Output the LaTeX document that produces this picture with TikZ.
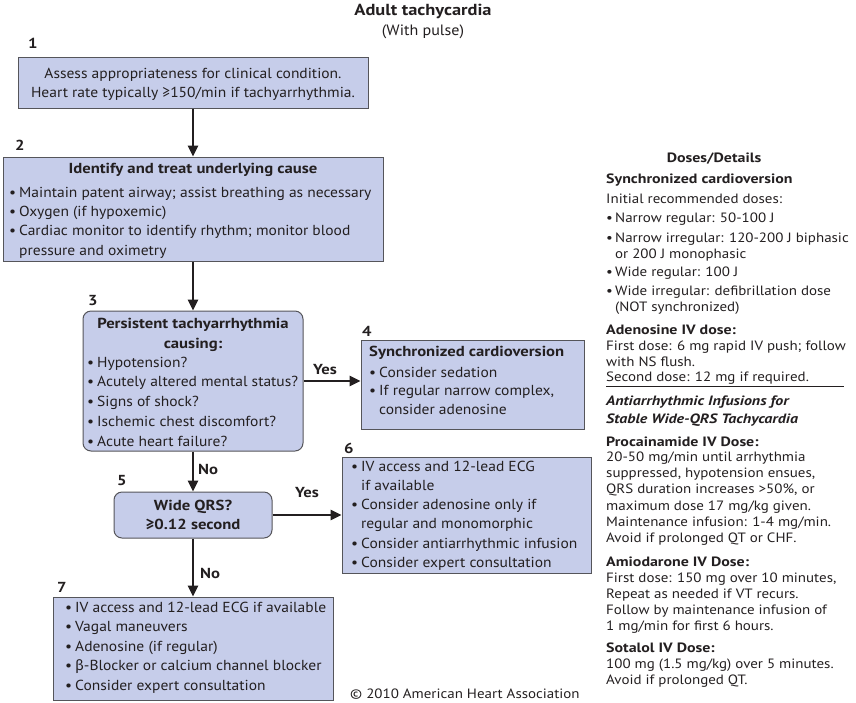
\documentclass[tikz,border=0pt]{standalone}
\usepackage{fontspec}
\setmainfont{PT Sans}
\newfontfamily\fa{PT Sans}[FakeStretch=1.07]
\newfontfamily\fb{PT Sans}[FakeStretch=1.15]
\newfontfamily\ra{PT Sans}[FakeStretch=1.11]
\newfontfamily\rb{PT Sans}[FakeStretch=1.18]
\newfontfamily\grk{Fira Sans}
\usetikzlibrary{arrows.meta}
\definecolor{boxfill}{RGB}{198,205,234}
\definecolor{boxdraw}{RGB}{85,85,90}
\definecolor{ink}{RGB}{35,31,32}
\newcommand\itm{\makebox[10pt][l]{\textbullet}}
\newcommand\rtm{\makebox[9pt][l]{\textbullet}}
\newcommand\ind{\hspace*{10pt}}
\newcommand\rind{\hspace*{9pt}}
\begin{document}
\begin{tikzpicture}[x=1pt,y=-1pt,
 every node/.style={text=ink},
 box/.style={draw=boxdraw, fill=boxfill, line width=1pt, inner sep=0pt},
 rbox/.style={box, rounded corners=8pt},
 ft/.style={font=\fa\fontsize{14.5}{19.5}\selectfont, inner sep=0pt},
 ftb/.style={font=\fb\fontsize{14.5}{19.5}\selectfont\bfseries, inner sep=0pt},
 rt/.style={font=\ra\fontsize{13.5}{16}\selectfont, inner sep=0pt, align=left, anchor=base west},
 rtb/.style={font=\rb\fontsize{13.5}{18}\selectfont\bfseries, inner sep=0pt, align=left, anchor=base west},
 arr/.style={line width=2.5pt, draw=ink, -{Triangle[length=11pt,width=10pt]}},
 num/.style={font=\fb\fontsize{14.5}{16}\selectfont\bfseries, inner sep=0pt, anchor=base west},
]
\useasboundingbox (0,0) rectangle (856,702);

% title
\node[font=\fb\fontsize{16}{18}\selectfont\bfseries, inner sep=0pt, anchor=base] (title) at (423,15.5) {Adult tachycardia};
\node[font=\fa\fontsize{15}{18}\selectfont, inner sep=0pt, anchor=base] (subtitle) at (423,35) {(With pulse)};

% boxes
\node[box, minimum width=350, minimum height=51] (b1) at (193,82.5) {};
\node[box, minimum width=380, minimum height=104] (b2) at (193,209) {};
\node[rbox, minimum width=220, minimum height=140] (b3) at (193,381) {};
\node[box, minimum width=223, minimum height=89] (b4) at (472.5,384.5) {};
\node[rbox, minimum width=158, minimum height=46] (b5) at (193,515) {};
\node[box, minimum width=249, minimum height=116] (b6) at (466.5,515) {};
\node[box, minimum width=280, minimum height=103] (b7) at (193,648.5) {};

% numbers
\node[num] (n1) at (28,48) {1};
\node[num] (n2) at (15,150) {2};
\node[num] (n3) at (88,305) {3};
\node[num] (n4) at (362,336) {4};
\node[num] (n5) at (117,485) {5};
\node[num] (n6) at (344,453) {6};
\node[num] (n7) at (57,592) {7};

% box texts (multi-line nodes: base = last line)
\node[ft, align=center, anchor=base, font=\fa\fontsize{14.5}{19}\selectfont] (t1) at (193,97) {Assess appropriateness for clinical condition.\\Heart rate typically ≥150/min if tachyarrhythmia.};
\node[ftb, anchor=base] (t2h) at (193,173) {Identify and treat underlying cause};
\node[ft, align=left, anchor=base west, font=\fa\fontsize{14.5}{19.3}\selectfont] (t2) at (9,255) {\itm Maintain patent airway; assist breathing as necessary\\\itm Oxygen (if hypoxemic)\\\itm Cardiac monitor to identify rhythm; monitor blood\\\ind pressure and oximetry};
\node[ftb, align=center, anchor=base, font=\fb\fontsize{14.5}{20}\selectfont\bfseries] (t3h) at (193,348) {Persistent tachyarrhythmia\\causing:};
\node[ft, align=left, anchor=base west, font=\fa\fontsize{14.5}{19.7}\selectfont] (t3) at (87,446) {\itm Hypotension?\\\itm Acutely altered mental status?\\\itm Signs of shock?\\\itm Ischemic chest discomfort?\\\itm Acute heart failure?};
\node[ftb, anchor=base west] (t4h) at (369,356) {Synchronized cardioversion};
\node[ft, align=left, anchor=base west, font=\fa\fontsize{14.5}{18.5}\selectfont] (t4) at (369,414) {\itm Consider sedation\\\itm If regular narrow complex,\\\ind consider adenosine};
\node[ftb, align=center, anchor=base, font=\fb\fontsize{14.5}{19}\selectfont\bfseries] (t5) at (193,529) {Wide QRS?\\≥0.12 second};
\node[ft, align=left, anchor=base west, font=\fa\fontsize{14.5}{19.3}\selectfont] (t6) at (351,567.5) {\itm IV access and 12-lead ECG\\\ind if available\\\itm Consider adenosine only if\\\ind regular and monomorphic\\\itm Consider antiarrhythmic infusion\\\itm Consider expert consultation};
\node[ft, align=left, anchor=base west] (t7) at (65,690) {\itm IV access and 12-lead ECG if available\\\itm Vagal maneuvers\\\itm Adenosine (if regular)\\\itm {\grk β}-Blocker or calcium channel blocker\\\itm Consider expert consultation};

% connectors
\draw[arr] (b1.south) -- (b2.north);
\draw[arr] (b2.south) -- (b3.north);
\draw[arr] (b3.east) -- (b3.east -| b4.west);
\draw[arr] (b3.south) -- (b5.north);
\draw[arr] (b5.east) -- (b5.east -| b6.west);
\draw[arr] (b5.south) -- (b7.north);
\node[num] (y1) at (313,374) {Yes};
\node[num] (y2) at (295,497) {Yes};
\node[num] (no1) at (198,474) {No};
\node[num] (no2) at (200,578) {No};

% right column
\node[rtb, anchor=base] (dd) at (714,162.5) {Doses/Details};
\node[rtb] (sc) at (606,183.5) {Synchronized cardioversion};
\node[rt] (ir) at (606,203) {Initial recommended doses:};
\node[rt] (i1) at (606,222) {\rtm Narrow regular: 50-100 J};
\node[rt] (i2) at (606,258) {\rtm Narrow irregular: 120-200 J biphasic\\\rind or 200 J monophasic};
\node[rt] (i3) at (606,276) {\rtm Wide regular: 100 J};
\node[rt] (i4) at (606,311) {\rtm Wide irregular: defibrillation dose\\\rind (NOT synchronized)};
\node[rtb] (ad) at (606,334) {Adenosine IV dose:};
\node[rt, font=\ra\fontsize{13.5}{15.5}\selectfont] (adt) at (606,381.5) {First dose: 6 mg rapid IV push; follow\\with NS flush.\\Second dose: 12 mg if required.};
\coordinate (rl) at (606,386);
\coordinate (rr) at (844,386);
\draw[line width=1pt, ink] (rl) -- (rr);
\node[rtb, font=\rb\fontsize{13.5}{18}\selectfont\bfseries\itshape] (ai) at (606,423.5) {Antiarrhythmic Infusions for\\Stable Wide-QRS Tachycardia};
\node[rtb] (pr) at (606,446) {Procainamide IV Dose:};
\node[rt, font=\ra\fontsize{13.5}{16.2}\selectfont] (prt) at (606,542.5) {20-50 mg/min until arrhythmia\\suppressed, hypotension ensues,\\QRS duration increases >50\%, or\\maximum dose 17 mg/kg given.\\Maintenance infusion: 1-4 mg/min.\\Avoid if prolonged QT or CHF.};
\node[rtb] (am) at (606,566) {Amiodarone IV Dose:};
\node[rt] (amt) at (606,630.5) {First dose: 150 mg over 10 minutes,\\Repeat as needed if VT recurs.\\Follow by maintenance infusion of\\1 mg/min for first 6 hours.};
\node[rtb] (so) at (606,652) {Sotalol IV Dose:};
\node[rt] (sot) at (606,684.5) {100 mg (1.5 mg/kg) over 5 minutes.\\Avoid if prolonged QT.};

\node[font=\ra\fontsize{13.5}{16}\selectfont, inner sep=0pt, anchor=base west] (copy) at (350,698) {© 2010 American Heart Association};
\end{tikzpicture}
\end{document}
